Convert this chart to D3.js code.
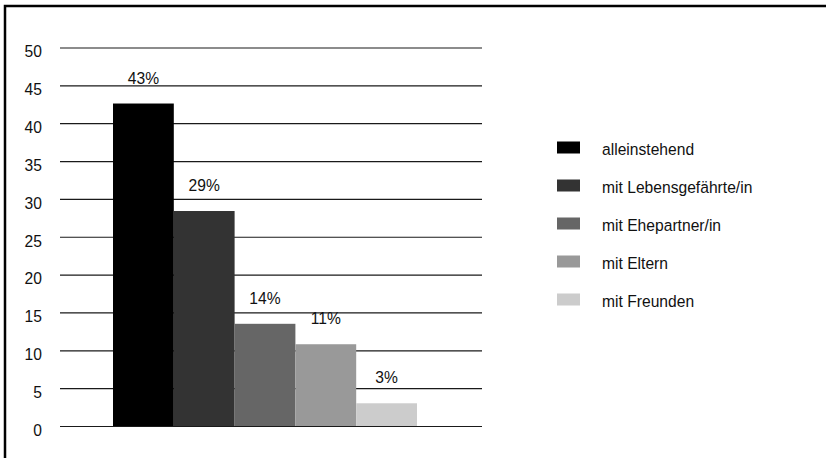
<!DOCTYPE html>
<html>
<head>
<meta charset="utf-8">
<script src="https://cdn.jsdelivr.net/npm/d3@7"></script>
<style>
    body { margin: 0; background: #fff; }
    text { font-family: "Liberation Sans", Arial, sans-serif; fill: #111; }
</style>
</head>
<body>
<div id="chart"></div>
<script>
// Wohnsituation
const categories = ["alleinstehend", "mit Lebensgefährte/in", "mit Ehepartner/in", "mit Eltern", "mit Freunden"];
const values = [42.6, 28.4, 13.5, 10.8, 3.0];
const valueLabels = ["43%", "29%", "14%", "11%", "3%"];
const yTicks = [0, 5, 10, 15, 20, 25, 30, 35, 40, 45, 50];
const colors = ["#000000", "#333333", "#666666", "#999999", "#cccccc"];

const w = 826,
      h = 458,
      fontSize = 17,
      squeeze = 0.92; // the original uses a condensed face

const svg = d3.select("#chart")
    .append("svg")
    .attr("width", w)
    .attr("height", h);

// frame, only top and left edges are visible
svg.append("rect")
    .attr("x", 5)
    .attr("y", 6)
    .attr("width", w + 20)
    .attr("height", h + 20)
    .style("fill", "none")
    .style("stroke", "#000")
    .style("stroke-width", 2.5);

const y = d3.scaleLinear()
    .domain([0, 50])
    .range([426, 47.5]);

const x = d3.scaleBand()
    .domain(categories)
    .range([113, 417])
    .paddingInner(0);

const fill = d3.scaleOrdinal()
    .domain(categories)
    .range(colors);

function squeezed(px, py) {
    return "translate(" + px + "," + py + ") scale(" + squeeze + ",1)";
}

// gridlines + tick labels
const yAxis = d3.axisLeft(y)
    .tickValues(yTicks)
    .tickSize(-(482 - 60));

const gy = svg.append("g")
    .attr("transform", "translate(60,0)")
    .call(yAxis);

gy.select(".domain").remove();
gy.selectAll(".tick line")
    .style("stroke", "#1a1a1a")
    .style("stroke-width", 1.2);
gy.selectAll(".tick text")
    .attr("x", 0)
    .attr("dy", "0.55em")
    .attr("transform", squeezed(-18, 0))
    .style("font-size", fontSize + "px")
    .style("fill", "#111");

svg.append("g")
    .selectAll("rect")
    .data(values)
    .enter()
    .append("rect")
    .attr("x", function (d, i) { return x(categories[i]); })
    .attr("width", x.bandwidth())
    .attr("y", function (d) { return y(d); })
    .attr("height", function (d) { return y(0) - y(d); })
    .style("fill", function (d, i) { return fill(categories[i]); });

svg.append("g")
    .selectAll("text")
    .data(values)
    .enter()
    .append("text")
    .attr("transform", function (d, i) {
        return squeezed(x(categories[i]) + x.bandwidth() / 2, y(d) - 20);
    })
    .attr("text-anchor", "middle")
    .style("font-size", fontSize + "px")
    .text(function (d, i) { return valueLabels[i]; });

// legend
const legend = svg.append("g")
    .attr("transform", "translate(557,149)");

const item = legend.selectAll("g")
    .data(categories)
    .enter()
    .append("g")
    .attr("transform", function (d, i) { return "translate(0," + (i * 38) + ")"; });

item.append("rect")
    .attr("x", 0)
    .attr("y", -7.5)
    .attr("width", 23)
    .attr("height", 12)
    .style("fill", function (d) { return fill(d); });

item.append("text")
    .attr("transform", squeezed(45, 0))
    .attr("dy", "0.35em")
    .style("font-size", fontSize + "px")
    .text(function (d) { return d; });
</script>
</body>
</html>
